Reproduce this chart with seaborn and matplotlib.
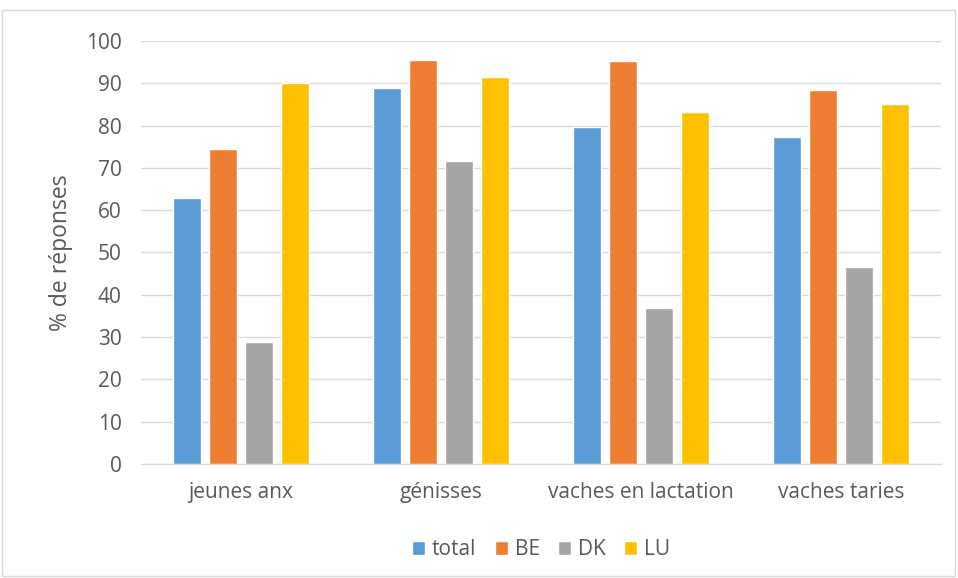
import matplotlib
matplotlib.use("Agg")
import matplotlib.pyplot as plt
import seaborn as sns
import pandas as pd
from matplotlib.patches import Rectangle

# données
categories = ["jeunes anx", "génisses", "vaches en lactation", "vaches taries"]
groupes = ["total", "BE", "DK", "LU"]
total = [63.0, 89.0, 79.6, 77.4]
be = [74.4, 95.4, 95.3, 88.4]
dk = [28.8, 71.6, 36.9, 46.6]
lu = [90.0, 91.6, 83.3, 85.0]
couleurs = ["#5B9BD5", "#ED7D31", "#A5A5A5", "#FFC000"]

rows = []
for g, vals in zip(groupes, [total, be, dk, lu]):
    for c, v in zip(categories, vals):
        rows.append({"categorie": c, "pays": g, "valeur": v})
df = pd.DataFrame(rows)

sns.set_style("white")
plt.rcParams["font.family"] = ["Open Sans", "DejaVu Sans"]

fig = plt.figure(figsize=(9.58, 5.78), dpi=100)
ax = fig.add_axes([141 / 958, 1 - 464 / 578, 800 / 958, 423 / 578])

sns.barplot(data=df, x="categorie", y="valeur", hue="pays", order=categories,
            hue_order=groupes, palette=couleurs, width=0.72, gap=0.22,
            saturation=1, ax=ax)

ax.set_ylim(0, 100)
ax.set_yticks(range(0, 101, 10))
ax.set_xlim(-0.5, 3.5)
ax.yaxis.grid(True, color="#d9d9d9", linewidth=1)
ax.set_axisbelow(True)
for s in ["top", "right", "left"]:
    ax.spines[s].set_visible(False)
ax.spines["bottom"].set_color("#d9d9d9")
ax.tick_params(axis="both", length=0, labelsize=15, colors="#595959")
ax.tick_params(axis="y", pad=14)
ax.tick_params(axis="x", pad=13)
ax.set_xlabel("")
ax.set_ylabel("% de réponses", fontsize=16.5, color="#595959", labelpad=9)

ax.legend(loc="center", bbox_to_anchor=(0.5, -0.203), ncol=4, frameon=False,
          fontsize=15, handlelength=0.62, handleheight=0.62, handletextpad=0.34,
          columnspacing=0.87, labelcolor="#595959")

fig.patches.append(Rectangle((2 / 958, 2 / 578), 953 / 958, 566 / 578,
                             transform=fig.transFigure, fill=False,
                             edgecolor="#d9d9d9", linewidth=1))

fig.savefig("out.png", dpi=100)
